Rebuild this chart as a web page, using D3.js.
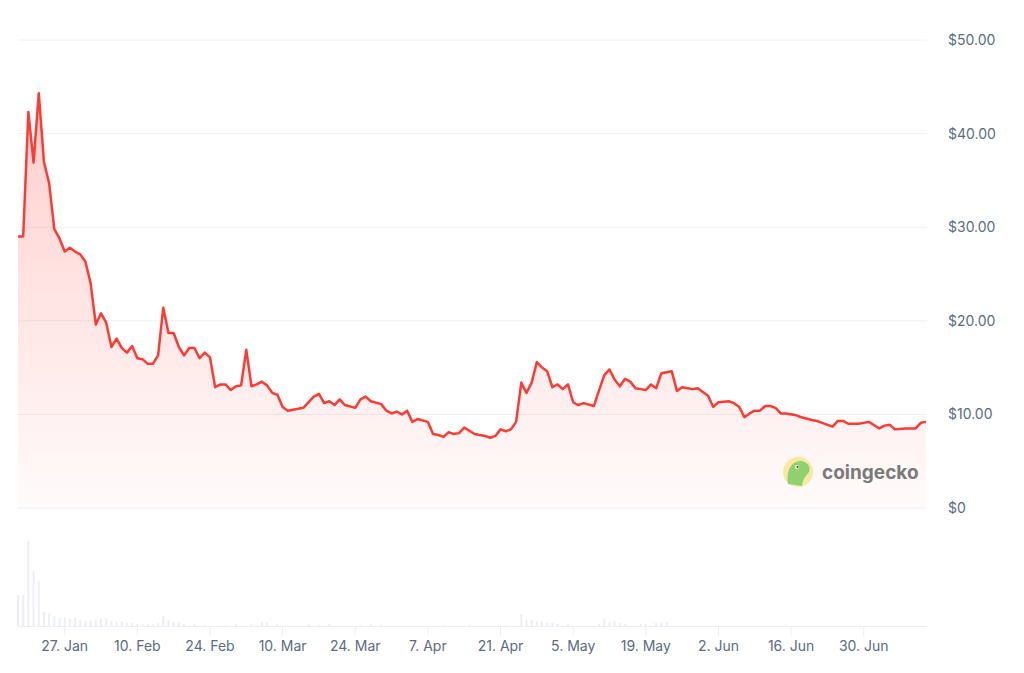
<!DOCTYPE html>
<html><head><meta charset="utf-8">
<script src="https://cdn.jsdelivr.net/npm/d3@7/dist/d3.min.js"></script>
<style>body{margin:0;background:#fff}svg{display:block}</style>
</head><body><svg id="c" width="1024" height="673"></svg>
<script>
const START = "2025-01-18";
const priceDays = [0,1,2,3,4,5,6,7,8,9,10,11,12,13,14,15,16,17,18,19,20,21,22,23,24,25,26,27,28,29,30,31,32,33,34,35,36,37,38,39,40,41,42,43,44,45,46,47,48,49,50,
51,52,54,55,57,58,59,60,61,62,63,65,66,67,68,70,71,72,73,74,75,76,77,79,80,81,82,83,84,85,86,88,90,91,92,93,94,95,96,97,98,99,100,101,102,103,104,105,106,107,108,109,111,112,113,114,115,116,117,118,119,120,
121,122,123,124,126,127,128,130,131,133,134,135,137,138,139,140,141,142,143,144,145,146,147,148,150,151,153,154,155,157,158,159,160,162,164,166,167,168,169,171,173,174,175];
const priceValues = [29.0,29.0,42.3,36.9,44.3,37.0,34.7,29.8,28.8,27.4,27.8,27.4,27.1,26.3,24.0,19.6,20.8,19.8,17.2,18.1,17.1,16.6,17.3,16.0,15.9,15.4,15.4,16.3,21.4,18.7,18.7,17.2,16.3,17.1,17.1,16.0,16.6,16.1,12.9,13.2,13.2,12.6,13.0,13.1,16.9,13.0,13.2,13.5,13.1,12.3,12.1,
10.8,10.4,10.6,10.7,11.9,12.2,11.2,11.4,11.0,11.6,11.0,10.7,11.6,11.9,11.4,11.1,10.4,10.1,10.3,10.0,10.4,9.2,9.5,9.2,7.9,7.8,7.6,8.1,7.9,8.0,8.6,7.9,7.7,7.5,7.7,8.4,8.2,8.4,9.2,13.4,12.3,13.4,15.6,15.0,14.6,12.9,13.2,12.7,13.2,11.3,11.0,11.2,10.9,12.6,14.2,14.8,13.7,13.0,13.8,13.5,12.8,12.7,
12.6,13.2,12.8,14.4,14.6,12.5,12.9,12.7,12.8,12.0,10.8,11.3,11.4,11.2,10.8,9.7,10.1,10.4,10.4,10.9,10.9,10.7,10.1,10.1,9.9,9.7,9.4,9.3,9.1,8.7,9.3,9.3,9.0,9.0,9.2,8.5,8.8,8.9,8.4,8.5,8.5,9.1,9.2];
const volumeDays = [0,1,2,3,4,5,6,7,8,9,10,11,12,13,14,15,16,17,18,19,20,21,22,23,24,25,26,27,28,29,30,31,32,34,36,40,42,45,46,47,48,50,52,56,58,60,66,68,70,82,87,94,97,98,99,100,101,102,103,104,106,112,113,114,115,116,117,120,121,123,124,125];
const volumeValues = [31,31,85,55,45,14,13,10,8,9,7,8,6,5,5,6,7,8,5,4,4,3,3,2,2,2,1.5,3,10,6,4,3,2,2,1,1,2,2,1,4,3,2,1,2,1,2,1,2,1,1,1,1,12,6,6,5,4,3,3,2,2,2,7,4,5,3,2,2,2,3,4,4];
const yTicks = [0,10,20,30,40,50];
const xTickDates = ["2025-01-27","2025-02-10","2025-02-24","2025-03-10","2025-03-24","2025-04-07","2025-04-21","2025-05-05","2025-05-19","2025-06-02","2025-06-16","2025-06-30"];

const svg = d3.select("#c");
const parse = d3.timeParse("%Y-%m-%d");
const t0 = parse(START);
const price = priceDays.map((d,i)=>({date:d3.timeDay.offset(t0,d), v:priceValues[i]}));
const vol = volumeDays.map((d,i)=>({date:d3.timeDay.offset(t0,d), v:volumeValues[i]}));

const x = d3.scaleTime().domain([t0, d3.timeDay.offset(t0,175)]).range([18,926]);
const y = d3.scaleLinear().domain([0,50]).range([508,40]);
const yv = d3.scaleLinear().domain([0,85]).range([626,541]);

// grid
svg.append("g").selectAll("line").data(yTicks).join("line")
  .attr("x1",18).attr("x2",927).attr("y1",d=>y(d)).attr("y2",d=>y(d))
  .attr("stroke","#eef0f3").attr("stroke-width",1);
svg.append("g").selectAll("text").data(yTicks).join("text")
  .attr("x",948).attr("y",d=>y(d)+5).text(d=>"$"+d.toFixed(2).replace(/^0\.00$/,"0"))
  .text(d=>d===0?"$0":"$"+d.toFixed(2))
  .attr("font-family","Inter, sans-serif").attr("font-size",14).attr("fill","#5b6b82");

// gradient
const defs = svg.append("defs");
const g = defs.append("linearGradient").attr("id","gr").attr("x1",0).attr("x2",0).attr("y1",0).attr("y2",1)
  .attr("gradientUnits","userSpaceOnUse").attr("y1",90).attr("y2",508);
g.append("stop").attr("offset",0).attr("stop-color","#ff3a33").attr("stop-opacity",0.25);
g.append("stop").attr("offset",1).attr("stop-color","#ff3a33").attr("stop-opacity",0.02);

svg.append("path").datum(price)
  .attr("d",d3.area().x(d=>x(d.date)).y0(508).y1(d=>y(d.v)))
  .attr("fill","url(#gr)");

// logo
const lg = svg.append("g");
lg.append("circle").attr("cx",798).attr("cy",472).attr("r",15).attr("fill","#f8e9a1");
lg.append("path").attr("d","M788,484 C786,472 790,462 800,461 C807,461 811,466 809,472 C806,476 803,478 802,486 Z").attr("fill","#8fd16f");
lg.append("circle").attr("cx",797).attr("cy",467).attr("r",2).attr("fill","#fff");
lg.append("circle").attr("cx",797.5).attr("cy",467).attr("r",1).attr("fill","#333");
lg.append("text").attr("x",822).attr("y",479).text("coingecko")
  .attr("font-family","Inter, sans-serif").attr("font-weight",700).attr("font-size",19).attr("fill","#7a7a7a");

svg.append("path").datum(price)
  .attr("d",d3.line().x(d=>x(d.date)).y(d=>y(d.v)))
  .attr("fill","none").attr("stroke","#ff3a33").attr("stroke-width",2.5).attr("stroke-linejoin","round");

// volume
svg.append("g").selectAll("rect").data(vol).join("rect")
  .attr("x",d=>x(d.date)-1).attr("width",2).attr("y",d=>yv(d.v)).attr("height",d=>626-yv(d.v))
  .attr("fill","#eceef3");
svg.append("line").attr("x1",18).attr("x2",927).attr("y1",626.5).attr("y2",626.5).attr("stroke","#eceef3");

// x axis
const xt = xTickDates.map(parse);
svg.append("g").selectAll("line").data(xt).join("line")
  .attr("x1",d=>x(d)).attr("x2",d=>x(d)).attr("y1",627).attr("y2",636).attr("stroke","#eceef3");
const fmt = d3.timeFormat("%b");
svg.append("g").selectAll("text").data(xt).join("text")
  .attr("x",d=>x(d)).attr("y",651).attr("text-anchor","middle")
  .text(d=>d.getDate()+". "+fmt(d))
  .attr("font-family","Inter, sans-serif").attr("font-size",14).attr("fill","#5b6b82");
</script></body></html>
